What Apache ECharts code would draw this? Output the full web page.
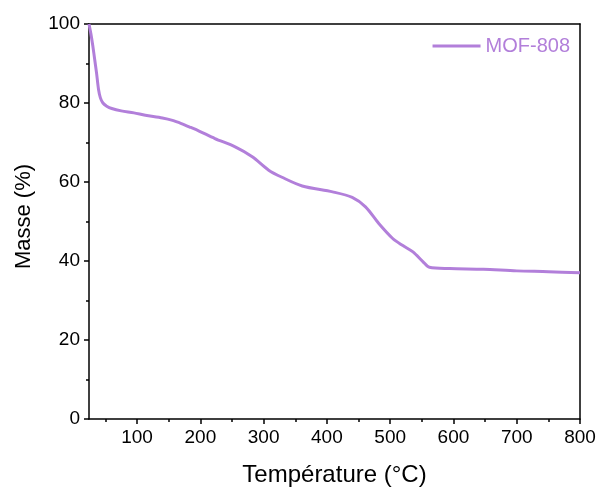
<!DOCTYPE html>
<html><head><meta charset="utf-8">
<script src="https://cdn.jsdelivr.net/npm/echarts@6/dist/echarts.min.js"></script>
<style>html,body{margin:0;padding:0;background:#fff}#c{width:603px;height:495px}</style>
</head><body><div id="c"></div>
<script>
const temperature = [24, 27, 30, 33, 36, 39, 42, 46, 52, 60, 75, 95, 113, 140, 156, 170, 185, 198, 223, 255, 282, 308, 329, 361, 409, 440, 461, 482, 504, 520, 536, 552, 562, 594, 647, 700, 750, 800];
const mass =        [100, 97.5, 94.5, 91, 87.5, 83.5, 81.3, 80.0, 79.2, 78.6, 78.0, 77.5, 76.9, 76.2, 75.6, 74.8, 73.8, 72.9, 71.0, 68.9, 66.4, 63.0, 61.2, 59.0, 57.5, 56.1, 53.7, 49.5, 45.7, 43.9, 42.3, 39.8, 38.4, 38.1, 37.9, 37.5, 37.3, 37.0];
const seriesName = 'MOF-808';
const xTicks = [100, 200, 300, 400, 500, 600, 700, 800];
const xMinorTicks = [50, 150, 250, 350, 450, 550, 650, 750];

const color = '#b27fda';
const font = 'Liberation Sans, Arial, sans-serif';
const data = temperature.map((t, i) => [t, mass[i]]);
const chart = echarts.init(document.getElementById('c'));
chart.setOption({
  animation: false,
  grid: {left: 89, right: 23, top: 24, bottom: 76},
  legend: {
    data: [{name: seriesName, icon: 'rect'}],
    right: 28, top: 31, itemWidth: 48, itemHeight: 3, itemGap: 5,
    textStyle: {color: color, fontSize: 20, fontFamily: font}
  },
  xAxis: [{
    type: 'value', min: 24, max: 800,
    name: 'Température (°C)', nameLocation: 'middle', nameGap: 44,
    nameTextStyle: {fontSize: 24, fontFamily: font, color: '#000'},
    splitLine: {show: false},
    axisLine: {lineStyle: {color: '#000', width: 1.5}},
    axisTick: {show: true, inside: false, length: 5, lineStyle: {color: '#000', width: 1.5},
      customValues: xTicks},
    minorTick: {show: false},
    axisLabel: {fontSize: 19, fontFamily: font, color: '#000', margin: 9,
      customValues: xTicks}
  }, {
    type: 'value', min: 24, max: 800, position: 'bottom',
    axisLine: {show: false}, splitLine: {show: false}, axisLabel: {show: false},
    axisTick: {show: true, length: 3, lineStyle: {color: '#000', width: 1.5},
      customValues: xMinorTicks}
  }, {
    type: 'value', min: 24, max: 800, position: 'top',
    axisLine: {show: true, onZero: false, lineStyle: {color: '#000', width: 1.5}},
    axisTick: {show: false}, axisLabel: {show: false}, splitLine: {show: false}
  }],
  yAxis: [{
    type: 'value', min: 0, max: 100, interval: 20,
    name: 'Masse (%)', nameLocation: 'middle', nameGap: 54, nameRotate: 90,
    nameTextStyle: {fontSize: 22, fontFamily: font, color: '#000', padding: [0, 0, 0, 10]},
    splitLine: {show: false},
    axisLine: {show: true, lineStyle: {color: '#000', width: 1.5}},
    axisTick: {show: true, length: 5, lineStyle: {color: '#000', width: 1.5}},
    minorTick: {show: true, splitNumber: 2, length: 3, lineStyle: {color: '#000', width: 1.5}},
    axisLabel: {fontSize: 19, fontFamily: font, color: '#000', margin: 9}
  }, {
    type: 'value', min: 0, max: 100, position: 'right',
    axisLine: {show: true, onZero: false, lineStyle: {color: '#000', width: 1.5}},
    axisTick: {show: false}, axisLabel: {show: false}, splitLine: {show: false}
  }],
  series: [{
    name: seriesName, type: 'line', data: data, smooth: 0.3,
    showSymbol: false, symbol: 'none',
    lineStyle: {color: color, width: 3}, itemStyle: {color: color}
  }]
});
</script></body></html>
